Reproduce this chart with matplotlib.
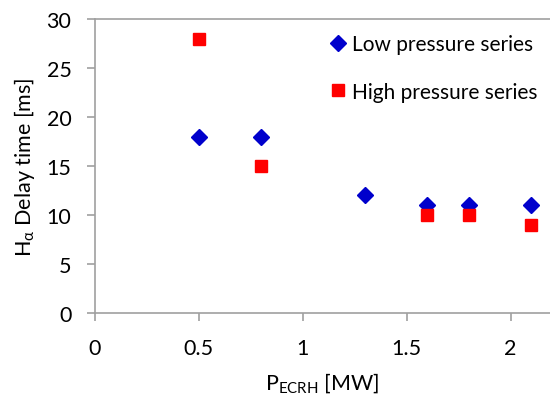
import matplotlib.pyplot as plt

plt.rcParams['font.family'] = ['Lato', 'DejaVu Sans']
plt.rcParams['mathtext.fontset'] = 'custom'
plt.rcParams['mathtext.rm'] = 'Lato'
plt.rcParams['mathtext.it'] = 'Lato'

low_p = [0.5, 0.8, 1.3, 1.6, 1.8, 2.1]
low_delay = [18, 18, 12, 11, 11, 11]
high_p = [0.5, 0.8, 1.6, 1.8, 2.1]
high_delay = [28, 15, 10, 10, 9]

fig = plt.figure(figsize=(5.5, 4.06), dpi=100)
ax = fig.add_axes([95 / 550, 92 / 406, 455 / 550, 294 / 406])

ax.plot(low_p, low_delay, 'D', color='#0000CC', markersize=8, label='Low pressure series', linestyle='none')
ax.plot(high_p, high_delay, 's', color='#FF0000', markersize=8, label='High pressure series', linestyle='none')

ax.set_xlim(0, 2.19)
ax.set_ylim(0, 30)
ax.set_xticks([0, 0.5, 1, 1.5, 2])
ax.set_xticklabels(['0', '0.5', '1', '1.5', '2'])
ax.set_yticks(range(0, 31, 5))

for s in ['left', 'bottom', 'top']:
    ax.spines[s].set_color('#A0A0A0')
    ax.spines[s].set_linewidth(1.2)
ax.spines['right'].set_visible(False)
ax.tick_params(colors='#A0A0A0', labelcolor='black', labelsize=15.5, length=6, width=1.2, direction='out')
ax.tick_params(axis='y', pad=11)
ax.tick_params(axis='x', pad=12)

ax.set_xlabel(r'P$_{\mathrm{ECRH}}$ [MW]', fontsize=15.5, labelpad=9)
ax.set_ylabel(r'H$_{\mathrm{α}}$ Delay time [ms]', fontsize=15.5, labelpad=7)

ax.legend(loc='upper right', frameon=False, fontsize=15, labelspacing=1.3,
          handletextpad=0.1, handlelength=1.1, borderaxespad=0.2, bbox_to_anchor=(1.0, 0.99))

fig.savefig('out.png', dpi=100)
